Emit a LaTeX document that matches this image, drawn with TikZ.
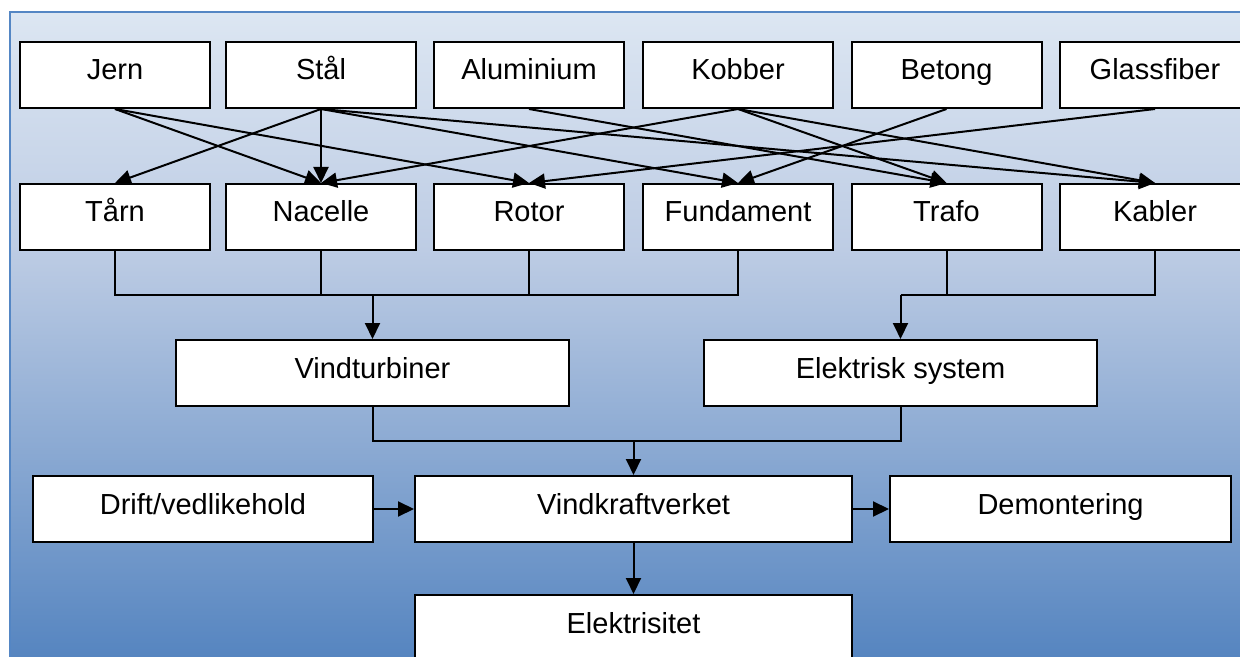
\documentclass[tikz,border=0pt]{standalone}
\usepackage{fontspec}
\setmainfont{Liberation Sans}
\usetikzlibrary{arrows.meta}
\definecolor{bgtop}{RGB}{220,230,242}
\definecolor{bgmid}{RGB}{189,204,228}
\definecolor{bgbot}{RGB}{80,129,190}
\definecolor{framecol}{RGB}{84,134,196}

\begin{document}
\begin{tikzpicture}[x=0.5pt,y=-0.5pt,
  box/.style={draw=black, line width=1pt, fill=white, inner sep=0pt,
    text height=10pt, text depth=5pt, minimum height=33pt,
    font=\fontsize{14.5}{17}\selectfont},
  mat/.style={box, minimum width=95pt},
  link/.style={draw=black, line width=1pt},
  arr/.style={link, -{Triangle[length=8pt,width=7.5pt]}}]

\useasboundingbox (0,0) rectangle (1240,657);
\clip (0,0) rectangle (1240,657);

% background panel with a two-stage vertical gradient
\shade[top color=bgtop, bottom color=bgmid] (10,12) rectangle (1270,251);
\shade[top color=bgmid, bottom color=bgbot] (10,250) rectangle (1270,680);
\draw[framecol, line width=1pt] (10,690) -- (10,12) -- (1270,12);

% raw materials
\node[mat] (jern)  at (115,75)   {Jern};
\node[mat] (stal)  at (321,75)   {Stål};
\node[mat] (alu)   at (529,75)   {Aluminium};
\node[mat] (kob)   at (738,75)   {Kobber};
\node[mat] (bet)   at (946.5,75) {Betong};
\node[mat] (glass) at (1155,75)  {Glassfiber};

% components
\node[mat] (tarn)  at (115,217)   {Tårn};
\node[mat] (nac)   at (321,217)   {Nacelle};
\node[mat] (rot)   at (529,217)   {Rotor};
\node[mat] (fund)  at (738,217)   {Fundament};
\node[mat] (trafo) at (946.5,217) {Trafo};
\node[mat] (kab)   at (1155,217)  {Kabler};

% assemblies and life cycle
\node[box, minimum width=196.5pt] (vt)   at (372.5,373) {Vindturbiner};
\node[box, minimum width=196.5pt] (el)   at (900.5,373) {Elektrisk system};
\node[box, minimum width=170pt]   (drift) at (203,509)  {Drift/vedlikehold};
\node[box, minimum width=218.5pt] (vk)   at (633.5,509) {Vindkraftverket};
\node[box, minimum width=170.5pt] (dem)  at (1060.5,509) {Demontering};
\node[box, minimum width=218.5pt] (elek) at (633.5,628) {Elektrisitet};

% materials used in each component
\draw[arr] (jern.south)  -- (nac.north);
\draw[arr] (jern.south)  -- (rot.north);
\draw[arr] (stal.south)  -- (tarn.north);
\draw[arr] (stal.south)  -- (nac.north);
\draw[arr] (stal.south)  -- (fund.north);
\draw[arr] (stal.south)  -- (kab.north);
\draw[arr] (alu.south)   -- (trafo.north);
\draw[arr] (kob.south)   -- (nac.north);
\draw[arr] (kob.south)   -- (trafo.north);
\draw[arr] (kob.south)   -- (kab.north);
\draw[arr] (bet.south)   -- (fund.north);
\draw[arr] (glass.south) -- (rot.north);

% component buses
\coordinate (busL) at (372.5,295);
\coordinate (busR) at (900.5,295);
\coordinate (busM) at (633.5,441);

\draw[link] (tarn.south) -- (tarn.south |- busL) -- (fund.south |- busL) -- (fund.south);
\draw[link] (nac.south) -- (nac.south |- busL);
\draw[link] (rot.south) -- (rot.south |- busL);
\draw[arr] (busL) -- (vt.north);

\draw[link] (busR) -- (kab.south |- busR) -- (kab.south);
\draw[link] (trafo.south) -- (trafo.south |- busR);
\draw[arr] (busR) -- (el.north);

\draw[link] (vt.south) |- (busM);
\draw[link] (el.south) |- (busM);
\draw[arr] (busM) -- (vk.north);

\draw[arr] (drift.east) -- (vk.west);
\draw[arr] (vk.east) -- (dem.west);
\draw[arr] (vk.south) -- (elek.north);
\end{tikzpicture}
\end{document}
